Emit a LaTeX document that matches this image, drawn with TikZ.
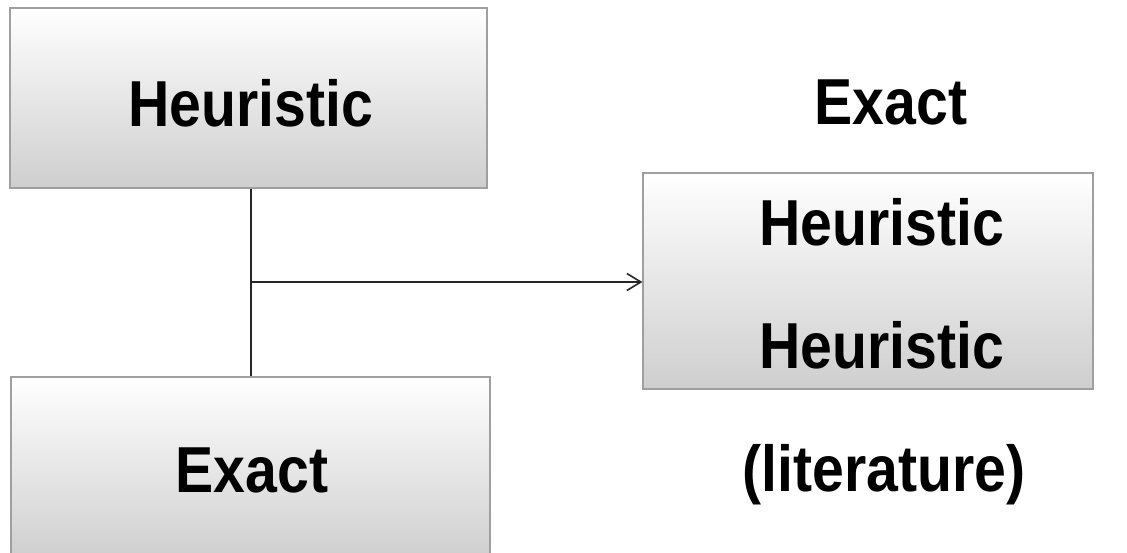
\documentclass[tikz,border=0pt]{standalone}
\usepackage{fontspec}
\setmainfont{Liberation Sans}[BoldFeatures={FakeStretch=0.88}]
\usetikzlibrary{arrows.meta, positioning, calc}

\tikzset{
  greybox/.style={draw=gray!75, line width=1.2pt, inner sep=0pt,
    top color=white, middle color=gray!6, bottom color=gray!38},
  bigtext/.style={font=\fontsize{65}{72}\selectfont\bfseries, anchor=base, inner sep=0pt},
  link/.style={line width=1.6pt, black!85}
}

\begin{document}
\begin{tikzpicture}[x=1pt, y=-1pt]
  \useasboundingbox (0,0) rectangle (1127,553);

  % Boxes
  \node[greybox, minimum width=477pt, minimum height=180pt] (heurbox) at (248.5,98) {};
  \node[greybox, minimum width=479pt, minimum height=182pt] (exactbox) at (250.5,468) {};
  \node[greybox, minimum width=450pt, minimum height=216pt] (litbox) at (868,281) {};

  % Texts
  \node[bigtext] (heurtxt) at (251,127) {Heuristic};
  \node[bigtext] (exacttxt) at (252,492) {Exact};
  \node[bigtext] (exactlit) at (891,125) {Exact};
  \node[bigtext] (heurlitA) at (882,246) {Heuristic};
  \node[bigtext] (heurlitB) at (882,368) {Heuristic};
  \node[bigtext] (littxt) at (884,491) {(literature)};

  % Connectors
  \coordinate (junc) at (251,282);
  \draw[link] (heurbox.south -| junc) -- (exactbox.north -| junc);
  \draw[link, -{Straight Barb[length=14pt, width=17pt]}] (junc) -- (litbox.west |- junc);
\end{tikzpicture}
\end{document}
